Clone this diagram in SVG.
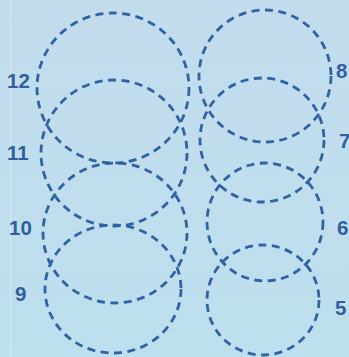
<svg xmlns="http://www.w3.org/2000/svg" width="349" height="357" viewBox="0 0 349 357">
  <defs>
    <linearGradient id="bg" x1="0" y1="0" x2="0" y2="1">
      <stop offset="0" stop-color="#c3dced"/>
      <stop offset="1" stop-color="#bddfee"/>
    </linearGradient>
  </defs>
  <style>
    .c { fill: none; stroke: #2f63a3; stroke-width: 2.8; stroke-dasharray: 8 5.5; }
    .t { font-family: "Liberation Sans", Arial, sans-serif; font-weight: bold; font-size: 20.5px; fill: #2f5f9e; }
  </style>
  <rect x="0" y="0" width="349" height="357" fill="url(#bg)"/>
  <line x1="10.5" y1="0" x2="10.5" y2="357" stroke="#e4f0f8" stroke-width="1" opacity="0.6"/>
  <g id="connectors"/>
  <g id="node-12"><ellipse class="c" cx="113" cy="88" rx="76" ry="75"/><text class="t" x="7" y="88">12</text></g>
  <g id="node-11"><ellipse class="c" cx="114" cy="153" rx="73" ry="73"/><text class="t" x="7" y="160">11</text></g>
  <g id="node-10"><ellipse class="c" cx="115" cy="233" rx="72" ry="70"/><text class="t" x="9" y="235">10</text></g>
  <g id="node-9"><ellipse class="c" cx="113" cy="289" rx="68" ry="64"/><text class="t" x="15" y="301">9</text></g>
  <g id="node-8"><ellipse class="c" cx="265" cy="76" rx="66" ry="66"/><text class="t" x="336" y="78">8</text></g>
  <g id="node-7"><ellipse class="c" cx="262" cy="140" rx="62" ry="62"/><text class="t" x="339" y="148">7</text></g>
  <g id="node-6"><ellipse class="c" cx="265" cy="222" rx="58" ry="59"/><text class="t" x="337" y="235">6</text></g>
  <g id="node-5"><ellipse class="c" cx="263" cy="300" rx="56" ry="55"/><text class="t" x="335" y="315">5</text></g>
</svg>
